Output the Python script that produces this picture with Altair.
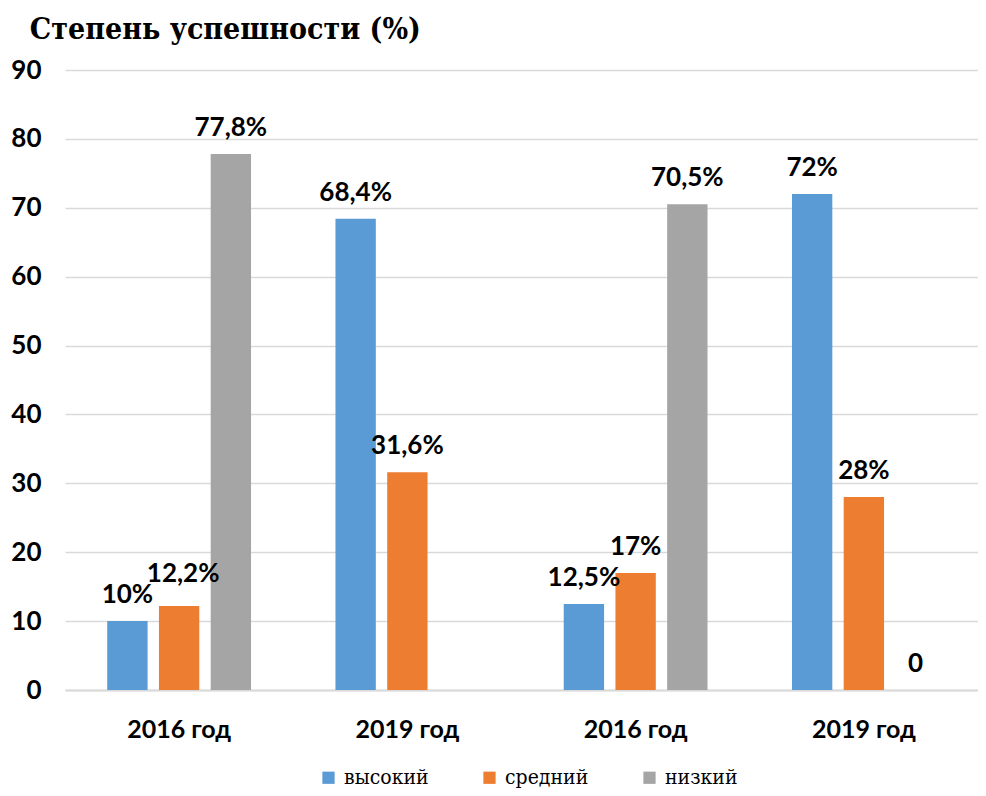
import altair as alt
import pandas as pd

groups = ["g1", "g2", "g3", "g4"]
group_labels = ["2016 год", "2019 год", "2016 год", "2019 год"]
levels = ["высокий", "средний", "низкий"]
colors = ["#5B9BD5", "#ED7D31", "#A5A5A5"]
high = [10, 68.4, 12.5, 72]
mid = [12.2, 31.6, 17, 28]
low = [77.8, None, 70.5, 0]

SERIF = "DejaVu Serif Condensed, DejaVu Serif"


def fmt(v):
    if v == 0:
        return "0"
    return (f"{v:g}".replace(".", ",")) + "%"


rows = []
for i, g in enumerate(groups):
    for lvl, vals in zip(levels, [high, mid, low]):
        v = vals[i]
        if v is None:
            continue
        rows.append({"group": g, "level": lvl, "value": v, "label": fmt(v)})
df = pd.DataFrame(rows)

label_expr = "{" + ",".join(f"'{g}':'{l}'" for g, l in zip(groups, group_labels)) + "}[datum.value]"

x = alt.X("group:N", sort=groups, title=None,
          scale=alt.Scale(paddingInner=0.37, paddingOuter=0.185),
          axis=alt.Axis(labelExpr=label_expr, labelAngle=0, ticks=False,
                        labelFont="Lato", labelFontWeight="bold", labelFontSize=25,
                        labelColor="#000000", labelPadding=27,
                        domainColor="#D9D9D9", domainWidth=2))
xo = alt.XOffset("level:N", sort=levels, scale=alt.Scale(domain=levels, paddingInner=0.22))
y = alt.Y("value:Q", title=None,
          scale=alt.Scale(domain=[0, 90], nice=False),
          axis=alt.Axis(values=list(range(0, 91, 10)), domain=False, ticks=False,
                        labelFont="Lato", labelFontWeight="bold", labelFontSize=26,
                        labelColor="#000000", labelPadding=24,
                        gridColor="#D9D9D9", gridWidth=1.5))

bars = alt.Chart(df).mark_bar().encode(
    x=x, xOffset=xo, y=y,
    color=alt.Color("level:N", sort=levels,
                    scale=alt.Scale(domain=levels, range=colors),
                    legend=alt.Legend(title=None, orient="none", direction="horizontal",
                                      legendX=253, legendY=697,
                                      symbolType="square", symbolSize=150,
                                      symbolStrokeWidth=0,
                                      labelFont=SERIF, labelFontSize=21,
                                      labelColor="#000000", columnPadding=50,
                                      labelOffset=5))
)

base_text = alt.Chart(df).encode(x=x, xOffset=xo, y=y, text="label:N")
text = base_text.transform_filter("datum.label != '12,2%'").mark_text(
    dy=-26, font="Lato", fontWeight="bold", fontSize=26, color="#000000")
text_raised = base_text.transform_filter("datum.label == '12,2%'").mark_text(
    dy=-32, dx=4, font="Lato", fontWeight="bold", fontSize=26, color="#000000")

chart = (bars + text + text_raised).properties(
    width=913, height=620,
    title=alt.TitleParams("Степень успешности (%)", anchor="start", font=SERIF,
                          fontSize=30, fontWeight="bold", color="#000000", offset=12, dx=19),
    autosize=alt.AutoSizeParams(type="none"),
    padding={"left": 57, "top": 62, "right": 0, "bottom": 100},
).configure_view(stroke=None).configure_legend(
    labelFont=SERIF, labelFontSize=21, labelColor="#000000"
)

chart.save("out.html", embed_options={"renderer": "svg", "actions": False})
